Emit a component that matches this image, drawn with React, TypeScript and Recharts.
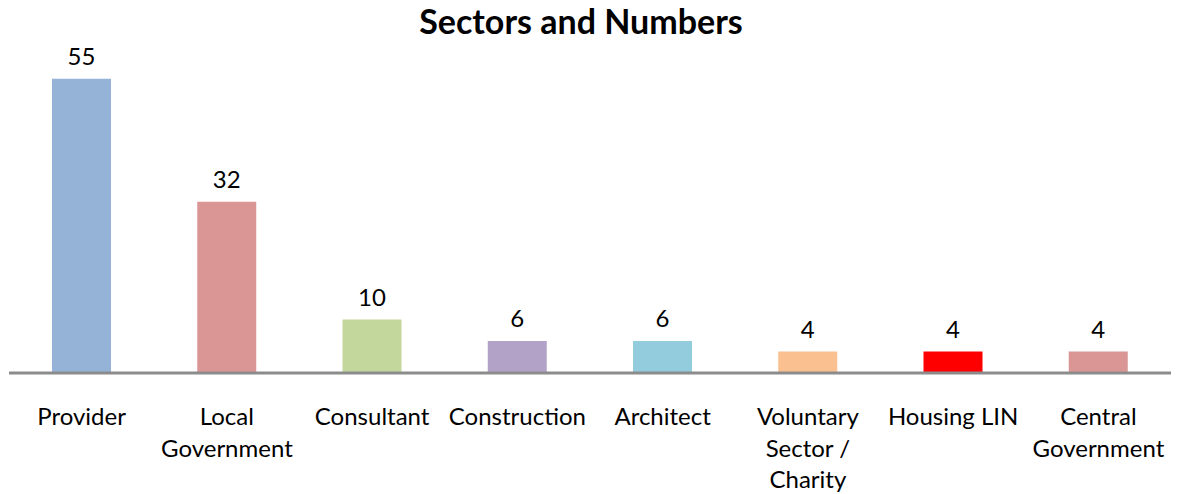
import React from "react";
import { BarChart, Bar, XAxis, YAxis, Cell, LabelList } from "recharts";

const sectors = [
  "Provider",
  "Local Government",
  "Consultant",
  "Construction",
  "Architect",
  "Voluntary Sector / Charity",
  "Housing LIN",
  "Central Government",
];
const counts = [55, 32, 10, 6, 6, 4, 4, 4];
const barColors = [
  "#95B3D7",
  "#D99694",
  "#C3D69B",
  "#B3A2C7",
  "#93CDDD",
  "#FAC090",
  "#FF0000",
  "#D99694",
];

const data = sectors.map((name, i) => ({ name, value: counts[i] }));

const FONT = "Lato, 'Open Sans', sans-serif";

function wrap(label: string, maxChars = 12) {
  const words = label.split(" ");
  const lines: string[] = [];
  let cur = "";
  for (const w of words) {
    const next = cur ? cur + " " + w : w;
    if (next.length > maxChars && cur) {
      lines.push(cur);
      cur = w;
    } else {
      cur = next;
    }
  }
  if (cur) lines.push(cur);
  return lines;
}

function SectorTick(props: any) {
  const { x, y, payload } = props;
  const lines = wrap(payload.value);
  return (
    <text x={x} y={y} textAnchor="middle" fill="#000" fontSize={24} fontFamily={FONT}>
      {lines.map((l, i) => (
        <tspan key={i} x={x} y={y + 44 + i * 31.5}>
          {l}
        </tspan>
      ))}
    </text>
  );
}

export default function App() {
  return (
    <div
      style={{
        position: "fixed",
        left: 0,
        top: 0,
        width: 1178,
        height: 494,
        overflow: "hidden",
        background: "#fff",
      }}
    >
      <div
        style={{
          position: "absolute",
          left: 0,
          width: 1162,
          top: 0,
          textAlign: "center",
          fontFamily: FONT,
          fontWeight: "bold",
          fontSize: 34,
          color: "#000",
        }}
      >
        Sectors and Numbers
      </div>
      <BarChart
        width={1178}
        height={494}
        data={data}
        margin={{ top: 52, right: 7, left: 9, bottom: 0 }}
      >
        <XAxis
          dataKey="name"
          height={121}
          interval={0}
          tickLine={false}
          axisLine={{ stroke: "#8C8C8C", strokeWidth: 3 }}
          tick={<SectorTick />}
        />
        <YAxis hide domain={[0, 60]} />
        <Bar dataKey="value" barSize={59} isAnimationActive={false}>
          {data.map((d, i) => (
            <Cell key={d.name} fill={barColors[i]} />
          ))}
          <LabelList
            dataKey="value"
            position="top"
            offset={14}
            fill="#000"
            fontSize={24}
            fontFamily={FONT}
          />
        </Bar>
      </BarChart>
    </div>
  );
}
